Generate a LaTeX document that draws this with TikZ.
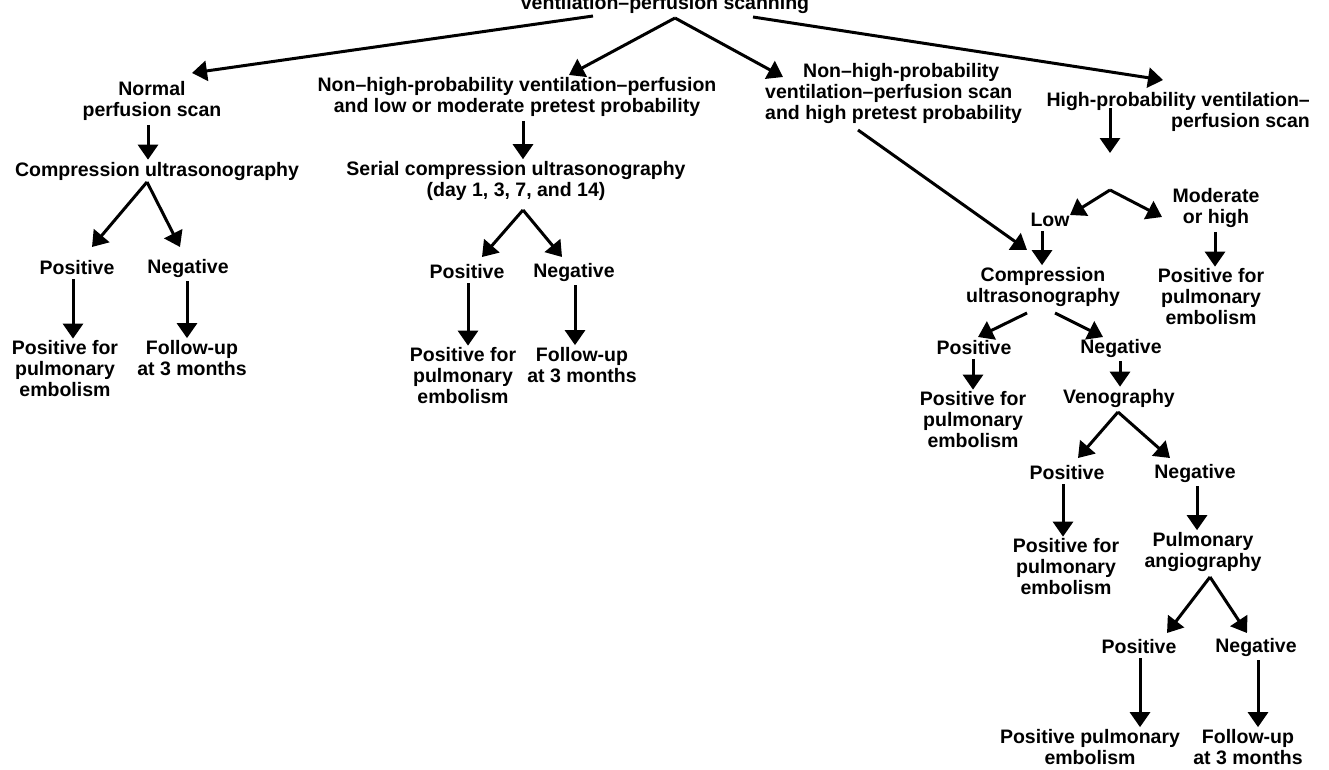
\documentclass[tikz,border=0pt]{standalone}
\usepackage{fontspec}
\newfontfamily\dfont{Liberation Sans}
\usetikzlibrary{arrows.meta}
\begin{document}
\begin{tikzpicture}[x=1pt,y=-1pt,
  lbl/.style={font=\dfont\bfseries\fontsize{19.5}{21}\selectfont, inner sep=0pt, align=center},
  arr/.style={line width=3pt, -{Triangle[width=20pt,length=15pt]}},
  vdown/.style={arr, shorten <=4pt, shorten >=2pt}]
\useasboundingbox (0,0) rectangle (1329,769);
\fill[white] (0,0) rectangle (1329,769);
\clip (0,0) rectangle (1329,769);

% root
\node[lbl, anchor=base] (top) at (665,9) {ventilation–perfusion scanning};

% first level
\node[lbl] (norm) at (152,101) {Normal\\perfusion scan};
\node[lbl] (mid) at (517,97) {Non–high-probability ventilation–perfusion\\and low or moderate pretest probability};
\node[lbl, anchor=west, align=left] (nh) at (765,93) {\hspace*{38pt}Non–high-probability\\ventilation–perfusion scan\\and high pretest probability};
\node[lbl, anchor=east, align=right] (hp) at (1310,112) {High-probability ventilation–\\perfusion scan};

% normal perfusion branch
\node[lbl] (cu1) at (157,171) {Compression ultrasonography};
\node[lbl] (p1) at (77,268) {Positive};
\node[lbl] (n1) at (188,268) {Negative};
\node[lbl] (pf1) at (65,369) {Positive for\\pulmonary\\embolism};
\node[lbl] (fu1) at (192,358) {Follow-up\\at 3 months};

% low / moderate pretest branch
\node[lbl] (scu) at (516,181) {Serial compression ultrasonography\\(day 1, 3, 7, and 14)};
\node[lbl] (p2) at (467,272) {Positive};
\node[lbl] (n2) at (574,272) {Negative};
\node[lbl] (pf2) at (463,376) {Positive for\\pulmonary\\embolism};
\node[lbl] (fu2) at (582,365) {Follow-up\\at 3 months};

% high probability branch
\node[lbl] (low) at (1050,220) {Low};
\node[lbl] (mh) at (1216,208) {Moderate\\or high};
\node[lbl] (cu3) at (1043,287) {Compression\\ultrasonography};
\node[lbl] (pf3) at (1211,297) {Positive for\\pulmonary\\embolism};
\node[lbl] (p3) at (974,348) {Positive};
\node[lbl] (n3) at (1121,348) {Negative};
\node[lbl] (pf4) at (973,420) {Positive for\\pulmonary\\embolism};
\node[lbl] (ven) at (1119,398) {Venography};
\node[lbl] (p4) at (1067,473) {Positive};
\node[lbl] (n4) at (1195,473) {Negative};
\node[lbl] (pf5) at (1066,567) {Positive for\\pulmonary\\embolism};
\node[lbl] (pa) at (1203,552) {Pulmonary\\angiography};
\node[lbl] (p5) at (1139,647) {Positive};
\node[lbl] (n5) at (1256,647) {Negative};
\node[lbl] (ppe) at (1090,747) {Positive pulmonary\\embolism};
\node[lbl] (fu3) at (1248,747) {Follow-up\\at 3 months};

% junction and end points of the slanted connectors
\coordinate (t1) at (593,16);
\coordinate (t2) at (675,18);
\coordinate (t3) at (753,17);
\coordinate (norm-in) at (192,73);
\coordinate (mid-in) at (569,75);
\coordinate (nh-in) at (783,77);
\coordinate (hp-in) at (1163,80);
\coordinate (cu1-a) at (147,182);
\coordinate (p1-in) at (92,247);
\coordinate (n1-in) at (180,247);
\coordinate (scu-a) at (523,210);
\coordinate (p2-in) at (482,257);
\coordinate (n2-in) at (562,257);
\coordinate (nh-out) at (858,130);
\coordinate (cu3-in) at (1027,250);
\coordinate (hp-out) at (1110,108);
\coordinate (hp-end) at (1110,153);
\coordinate (hj) at (1110,190);
\coordinate (low-in) at (1070,215);
\coordinate (mh-in) at (1162,217);
\coordinate (cu3-l) at (1027,313);
\coordinate (cu3-r) at (1055,313);
\coordinate (p3-in) at (978,337);
\coordinate (n3-in) at (1103,337);
\coordinate (ven-a) at (1118,412);
\coordinate (p4-in) at (1078,458);
\coordinate (n4-in) at (1170,458);
\coordinate (pa-a) at (1210,577);
\coordinate (p5-in) at (1167,633);
\coordinate (n5-in) at (1247,633);

% connectors from the root
\draw[arr] (t1) -- (norm-in);
\draw[arr] (t2) -- (mid-in);
\draw[arr] (t2) -- (nh-in);
\draw[arr] (t3) -- (hp-in);

% normal perfusion branch
\draw[vdown] (norm.south -| 148,0) -- (cu1.north -| 148,0);
\draw[arr] (cu1-a) -- (p1-in);
\draw[arr] (cu1-a) -- (n1-in);
\draw[vdown] (p1.south -| 73,0) -- (pf1.north -| 73,0);
\draw[vdown] (n1.south -| 187,0) -- (fu1.north -| 187,0);

% low / moderate pretest branch
\draw[vdown] (mid.south -| 523,0) -- (scu.north -| 523,0);
\draw[arr] (scu-a) -- (p2-in);
\draw[arr] (scu-a) -- (n2-in);
\draw[vdown] (p2.south -| 468,0) -- (pf2.north -| 468,0);
\draw[vdown] (n2.south -| 575,0) -- (fu2.north -| 575,0);

% high pretest branch
\draw[arr] (nh-out) -- (cu3-in);

% high probability branch
\draw[arr] (hp-out) -- (hp-end);
\draw[arr] (hj) -- (low-in);
\draw[arr] (hj) -- (mh-in);
\draw[vdown] (low.south -| 1042,0) -- (cu3.north -| 1042,0);
\draw[vdown] (mh.south -| 1215,0) -- (pf3.north -| 1215,0);
\draw[arr] (cu3-l) -- (p3-in);
\draw[arr] (cu3-r) -- (n3-in);
\draw[vdown] (p3.south -| 973,0) -- (pf4.north -| 973,0);
\draw[vdown] (n3.south -| 1120,0) -- (ven.north -| 1120,0);
\draw[arr] (ven-a) -- (p4-in);
\draw[arr] (ven-a) -- (n4-in);
\draw[vdown] (p4.south -| 1063,0) -- (pf5.north -| 1063,0);
\draw[vdown] (n4.south -| 1197,0) -- (pa.north -| 1197,0);
\draw[arr] (pa-a) -- (p5-in);
\draw[arr] (pa-a) -- (n5-in);
\draw[vdown] (p5.south -| 1140,0) -- (ppe.north -| 1140,0);
\draw[vdown] (n5.south -| 1258,0) -- (fu3.north -| 1258,0);
\end{tikzpicture}
\end{document}
